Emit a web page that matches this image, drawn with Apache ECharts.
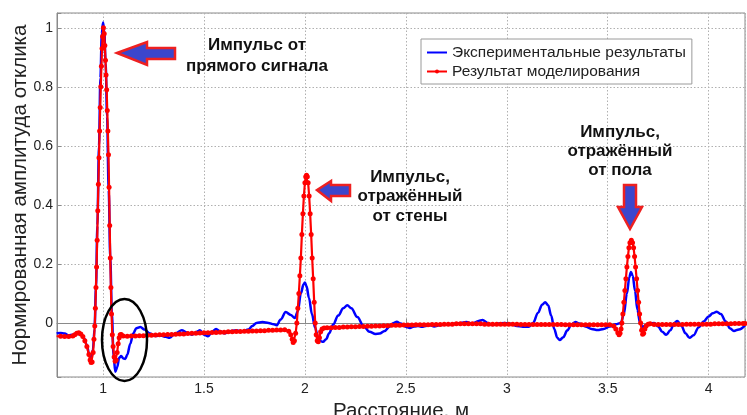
<!DOCTYPE html>
<html>
<head>
<meta charset="utf-8">
<script src="https://cdn.jsdelivr.net/npm/echarts@6/dist/echarts.min.js"></script>
<style>html,body{margin:0;padding:0;background:#fff}#c{width:747px;height:415px}</style>
</head>
<body>
<div id="c"></div>
<script>
// ---- data ----
const seriesNames = ['Экспериментальные результаты', 'Результат моделирования'];
const xAxisTitle = 'Расстояние, м';
const yAxisTitle = 'Нормированная амплитуда отклика';
const xRange = [0.772, 4.18];
const yRange = [-0.183, 1.05];

// experimental (blue) [distance, amplitude]
const experimental = [
[0.77,-0.035],[0.79,-0.034],[0.81,-0.036],[0.83,-0.042],[0.85,-0.04],[0.87,-0.036],[0.89,-0.04],[0.905,-0.05],[0.92,-0.075],[0.932,-0.11],[0.942,-0.12],[0.95,-0.09],[0.958,-0.02],[0.965,0.12],[0.972,0.33],[0.98,0.6],[0.987,0.83],[0.994,0.98],[1.0,1.018],[1.006,0.99],[1.013,0.88],[1.02,0.7],[1.028,0.45],[1.036,0.22],[1.044,0.03],[1.052,-0.11],[1.061,-0.165],[1.07,-0.15],[1.08,-0.118],[1.09,-0.112],[1.10,-0.12],[1.11,-0.122],[1.12,-0.108],[1.135,-0.07],[1.15,-0.035],[1.165,-0.018],[1.185,-0.014],[1.205,-0.022],[1.23,-0.035],[1.26,-0.044],[1.29,-0.043],[1.31,-0.047],[1.33,-0.05],[1.36,-0.035],[1.39,-0.025],[1.415,-0.032],[1.44,-0.04],[1.465,-0.03],[1.48,-0.025],[1.50,-0.04],[1.52,-0.045],[1.54,-0.03],[1.56,-0.02],[1.58,-0.028],[1.60,-0.035],[1.63,-0.028],[1.66,-0.025],[1.69,-0.03],[1.72,-0.022],[1.74,-0.01],[1.76,0.0],[1.79,0.003],[1.82,0.0],[1.845,-0.004],[1.86,-0.008],[1.88,0.012],[1.905,0.037],[1.93,0.027],[1.95,0.017],[1.965,0.04],[1.98,0.1],[1.993,0.13],[2.0,0.137],[2.008,0.125],[2.02,0.085],[2.035,0.03],[2.05,-0.015],[2.065,-0.048],[2.08,-0.062],[2.09,-0.064],[2.105,-0.055],[2.12,-0.035],[2.14,-0.005],[2.165,0.025],[2.19,0.05],[2.21,0.06],[2.23,0.05],[2.26,0.02],[2.29,-0.01],[2.32,-0.03],[2.35,-0.037],[2.37,-0.036],[2.395,-0.027],[2.42,-0.012],[2.44,0.0],[2.455,0.004],[2.475,-0.002],[2.50,-0.013],[2.52,-0.017],[2.54,-0.012],[2.56,-0.01],[2.58,-0.013],[2.60,-0.01],[2.62,-0.008],[2.64,-0.012],[2.67,-0.007],[2.70,-0.005],[2.73,-0.004],[2.76,-0.001],[2.80,0.003],[2.83,-0.002],[2.86,0.007],[2.88,0.01],[2.905,0.0],[2.93,-0.007],[2.96,-0.002],[2.99,0.0],[3.02,-0.003],[3.05,-0.01],[3.08,-0.013],[3.11,-0.013],[3.13,0.0],[3.155,0.035],[3.175,0.062],[3.19,0.07],[3.205,0.06],[3.22,0.025],[3.235,-0.02],[3.25,-0.05],[3.262,-0.058],[3.28,-0.048],[3.30,-0.025],[3.32,-0.005],[3.34,0.003],[3.36,-0.002],[3.39,-0.012],[3.42,-0.02],[3.45,-0.024],[3.48,-0.02],[3.51,-0.012],[3.54,-0.004],[3.565,0.0],[3.58,0.03],[3.595,0.1],[3.607,0.155],[3.615,0.173],[3.624,0.16],[3.635,0.11],[3.647,0.045],[3.66,0.0],[3.672,-0.013],[3.69,-0.008],[3.71,-0.001],[3.73,0.0],[3.75,-0.012],[3.77,-0.03],[3.79,-0.04],[3.81,-0.025],[3.83,0.0],[3.845,0.007],[3.865,-0.01],[3.885,-0.035],[3.905,-0.05],[3.925,-0.042],[3.95,-0.015],[3.975,0.005],[4.0,0.022],[4.02,0.033],[4.04,0.038],[4.06,0.03],[4.085,0.005],[4.105,-0.018],[4.125,-0.027],[4.15,-0.022],[4.18,-0.008]
];

// simulation (red) [distance, amplitude]
const simulation = [
[0.77,-0.045],[0.79,-0.045],[0.81,-0.046],[0.83,-0.046],[0.85,-0.044],[0.86,-0.04],[0.87,-0.035],[0.88,-0.033],[0.89,-0.037],[0.90,-0.046],[0.91,-0.06],[0.92,-0.08],[0.93,-0.107],[0.936,-0.125],[0.941,-0.134],[0.946,-0.132],[0.951,-0.1],[0.955,-0.055],[0.959,-0.01],[0.962,0.05],[0.965,0.12],[0.968,0.19],[0.971,0.28],[0.974,0.38],[0.977,0.47],[0.98,0.56],[0.983,0.65],[0.986,0.73],[0.989,0.8],[0.992,0.87],[0.995,0.93],[0.998,0.97],[1.002,1.0],[1.006,0.98],[1.009,0.94],[1.012,0.89],[1.015,0.84],[1.018,0.79],[1.021,0.72],[1.024,0.65],[1.027,0.57],[1.03,0.46],[1.033,0.33],[1.036,0.22],[1.039,0.12],[1.042,0.03],[1.046,-0.04],[1.05,-0.08],[1.055,-0.115],[1.06,-0.13],[1.065,-0.125],[1.07,-0.1],[1.075,-0.07],[1.08,-0.05],[1.085,-0.04],[1.09,-0.039],[1.10,-0.044],
[1.12,-0.045],[1.14,-0.044],[1.16,-0.044],[1.18,-0.043],[1.20,-0.043],[1.22,-0.042],[1.24,-0.042],[1.26,-0.041],[1.28,-0.040],[1.30,-0.040],[1.32,-0.039],[1.34,-0.039],[1.36,-0.038],[1.38,-0.037],[1.40,-0.037],[1.42,-0.036],[1.44,-0.035],[1.46,-0.035],[1.48,-0.034],[1.50,-0.033],[1.52,-0.033],[1.54,-0.032],[1.56,-0.032],[1.58,-0.031],[1.60,-0.031],[1.62,-0.030],[1.64,-0.030],[1.66,-0.029],[1.68,-0.029],[1.70,-0.028],[1.72,-0.028],[1.74,-0.027],[1.76,-0.027],[1.78,-0.026],[1.80,-0.026],[1.82,-0.025],[1.84,-0.025],[1.86,-0.024],[1.88,-0.024],[1.90,-0.023],
[1.92,-0.028],[1.93,-0.04],[1.937,-0.055],[1.942,-0.066],[1.948,-0.06],[1.954,-0.035],[1.96,0.0],[1.965,0.05],[1.97,0.1],[1.975,0.16],[1.98,0.22],[1.985,0.3],[1.99,0.37],[1.995,0.43],[2.0,0.475],[2.004,0.495],[2.008,0.5],[2.012,0.495],[2.016,0.475],[2.021,0.43],[2.026,0.37],[2.031,0.3],[2.036,0.22],[2.041,0.15],[2.046,0.07],[2.051,0.0],[2.056,-0.04],[2.061,-0.06],[2.066,-0.064],[2.072,-0.05],[2.078,-0.03],[2.085,-0.02],[2.095,-0.017],
[2.11,-0.016],[2.13,-0.016],[2.15,-0.015],[2.17,-0.015],[2.19,-0.014],[2.21,-0.014],[2.23,-0.013],[2.25,-0.013],[2.27,-0.012],[2.29,-0.012],[2.31,-0.011],[2.33,-0.011],[2.35,-0.010],[2.37,-0.010],[2.39,-0.009],[2.41,-0.009],[2.43,-0.008],[2.45,-0.008],[2.47,-0.008],[2.49,-0.007],[2.51,-0.007],[2.53,-0.007],[2.55,-0.006],[2.57,-0.006],[2.59,-0.006],[2.61,-0.006],[2.63,-0.005],[2.65,-0.005],[2.67,-0.005],[2.69,-0.004],[2.71,-0.004],[2.73,-0.004],[2.75,-0.003],[2.77,-0.003],[2.79,-0.003],[2.81,-0.003],[2.83,-0.003],[2.85,-0.003],[2.87,-0.003],[2.89,-0.004],[2.91,-0.004],[2.93,-0.004],[2.95,-0.004],[2.97,-0.004],[2.99,-0.004],[3.01,-0.004],[3.03,-0.004],[3.05,-0.004],[3.07,-0.005],[3.09,-0.005],[3.11,-0.005],[3.13,-0.005],[3.15,-0.005],[3.17,-0.005],[3.19,-0.005],[3.21,-0.005],[3.23,-0.005],[3.25,-0.005],[3.27,-0.005],[3.29,-0.006],[3.31,-0.006],[3.33,-0.006],[3.35,-0.006],[3.37,-0.006],[3.39,-0.006],[3.41,-0.006],[3.43,-0.006],[3.45,-0.006],[3.47,-0.006],[3.49,-0.006],[3.51,-0.006],
[3.53,-0.01],[3.54,-0.02],[3.55,-0.033],[3.556,-0.04],[3.561,-0.035],[3.566,-0.02],[3.57,0.0],[3.575,0.03],[3.58,0.07],[3.585,0.11],[3.59,0.15],[3.595,0.19],[3.60,0.225],[3.605,0.255],[3.61,0.272],[3.617,0.28],[3.623,0.272],[3.628,0.255],[3.633,0.225],[3.638,0.19],[3.643,0.15],[3.648,0.11],[3.653,0.07],[3.658,0.03],[3.663,0.0],[3.668,-0.025],[3.673,-0.038],[3.678,-0.035],[3.684,-0.02],[3.69,-0.01],[3.70,-0.004],[3.71,-0.003],
[3.73,-0.005],[3.75,-0.005],[3.77,-0.005],[3.79,-0.005],[3.81,-0.005],[3.83,-0.005],[3.85,-0.005],[3.87,-0.005],[3.89,-0.004],[3.91,-0.004],[3.93,-0.004],[3.95,-0.004],[3.97,-0.004],[3.99,-0.004],[4.01,-0.004],[4.03,-0.003],[4.05,-0.003],[4.07,-0.003],[4.09,-0.003],[4.11,-0.003],[4.13,-0.002],[4.15,-0.002],[4.17,-0.002],[4.18,-0.002]
];

const notes = [
  {lines: ['Импульс от', 'прямого сигнала']},
  {lines: ['Импульс,', 'отражённый', 'от стены']},
  {lines: ['Импульс,', 'отражённый', 'от пола']}
];
// ---------------------------------------

const FONT = '"Liberation Sans", Arial, sans-serif';
const chart = echarts.init(document.getElementById('c'), null, {renderer: 'canvas'});

function noteText(lines, cx, y0, dy) {
  return lines.map((t, i) => ({
    type: 'text', x: cx, y: y0 + i * dy, z: 50,
    style: {text: t, fill: '#111', font: 'bold 17px ' + FONT, textAlign: 'center', textVerticalAlign: 'middle'}
  }));
}
const arrowStyle = {fill: '#3c46cc', stroke: '#ee2020', lineWidth: 2.5, lineJoin: 'miter'};

const halfStep = v => Math.abs(v * 2 - Math.round(v * 2)) < 1e-6;
const fifthStep = v => Math.abs(v * 5 - Math.round(v * 5)) < 1e-6;
const gridLine = {show: true, lineStyle: {color: '#b0b0b0', type: [1.5, 2], width: 1}};

chart.setOption({
  animation: false,
  backgroundColor: '#fff',
  textStyle: {fontFamily: FONT},
  grid: {left: 57, right: 2, top: 13, bottom: 38, containLabel: false, outerBoundsMode: 'none',
         show: true, borderColor: '#8a8a8a', borderWidth: 1, backgroundColor: 'transparent'},
  legend: {
    orient: 'vertical', left: 421, top: 39,
    padding: [5, 6, 4, 5], itemGap: 2, itemWidth: 20, itemHeight: 5,
    backgroundColor: '#fff', borderColor: '#9a9a9a', borderWidth: 1, borderRadius: 0,
    textStyle: {fontSize: 15.5, color: '#222', fontFamily: FONT, lineHeight: 17},
    data: [
      {name: seriesNames[0], itemStyle: {color: 'rgba(0,0,0,0)', borderWidth: 0}},
      {name: seriesNames[1]}
    ]
  },
  xAxis: {
    type: 'value', min: xRange[0], max: xRange[1], splitNumber: 7,
    name: xAxisTitle, nameLocation: 'middle', nameGap: 18,
    nameTextStyle: {fontSize: 20.5, color: '#222', fontFamily: FONT},
    axisLine: {show: true, lineStyle: {color: '#8a8a8a'}},
    axisTick: {show: true, inside: true, length: 4, lineStyle: {color: '#8a8a8a'}},
    axisLabel: {fontSize: 14, color: '#222', margin: 5, formatter: v => halfStep(v) ? String(+v.toFixed(2)) : ''},
    splitLine: gridLine
  },
  yAxis: {
    type: 'value', min: yRange[0], max: yRange[1], splitNumber: 6,
    name: yAxisTitle, nameLocation: 'middle', nameGap: 26, nameMoveOverlap: false,
    nameTextStyle: {fontSize: 20.5, color: '#222', fontFamily: FONT},
    axisLine: {show: true, lineStyle: {color: '#8a8a8a'}},
    axisTick: {show: true, inside: true, length: 4, lineStyle: {color: '#8a8a8a'}},
    axisLabel: {fontSize: 14, color: '#222', margin: 4, formatter: v => fifthStep(v) ? String(+v.toFixed(2)) : ''},
    splitLine: gridLine
  },
  series: [
    {
      name: seriesNames[0], type: 'line', data: experimental,
      symbol: 'none', smooth: 0.35, smoothMonotone: 'x', clip: true,
      lineStyle: {color: '#0000ff', width: 2.5}, itemStyle: {color: '#0000ff'}, z: 2
    },
    {
      name: seriesNames[1], type: 'line', data: simulation,
      symbol: 'circle', symbolSize: 5, showSymbol: true, showAllSymbol: true, clip: true,
      lineStyle: {color: '#ff0000', width: 2.2}, itemStyle: {color: '#ff0000', borderWidth: 0}, z: 3
    }
  ],
  graphic: [
    ...noteText(notes[0].lines, 257, 45, 21),
    ...noteText(notes[1].lines, 410, 177, 19.5),
    ...noteText(notes[2].lines, 620, 132, 19),
    {type: 'polygon', z: 50, shape: {points: [[117,53],[147,42],[147,48],[175,48],[175,59],[147,59],[147,65]]}, style: arrowStyle},
    {type: 'polygon', z: 50, shape: {points: [[317,190],[331,181],[331,185],[350,185],[350,196],[331,196],[331,201]]}, style: arrowStyle},
    {type: 'polygon', z: 50, shape: {points: [[624,185],[636,185],[636,207],[642,207],[630,229],[618,207],[624,207]]}, style: arrowStyle},
    {type: 'ellipse', z: 50, shape: {cx: 124.5, cy: 340, rx: 22.5, ry: 41}, style: {fill: 'none', stroke: '#000', lineWidth: 2.5}}
  ]
});
</script>
</body>
</html>
